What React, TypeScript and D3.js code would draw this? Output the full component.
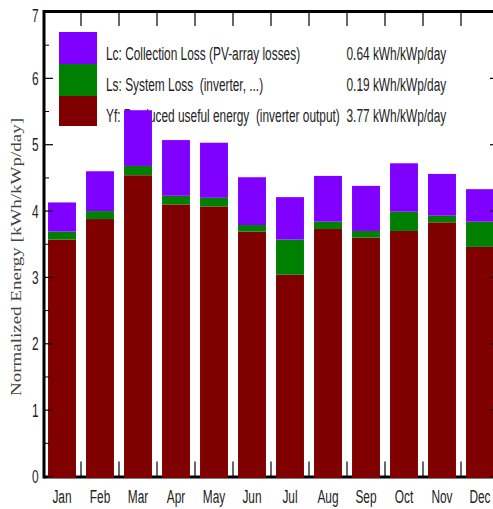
import React from 'react';
import * as d3 from 'd3';

const months = ['Jan', 'Feb', 'Mar', 'Apr', 'May', 'Jun', 'Jul', 'Aug', 'Sep', 'Oct', 'Nov', 'Dec'];
// Yf: produced useful energy
const yf = [3.57, 3.88, 4.54, 4.10, 4.07, 3.69, 3.04, 3.73, 3.60, 3.70, 3.83, 3.46];
// Ls: system loss
const ls = [0.12, 0.12, 0.14, 0.13, 0.13, 0.10, 0.53, 0.11, 0.10, 0.29, 0.10, 0.38];
// Lc: collection loss
const lc = [0.44, 0.60, 0.84, 0.84, 0.83, 0.72, 0.64, 0.69, 0.68, 0.73, 0.63, 0.49];

const yTicks = [0, 1, 2, 3, 4, 5, 6, 7];
const seriesKeys = ['yf', 'ls', 'lc'];
const colors: Record<string, string> = { yf: '#800000', ls: '#008000', lc: '#8000ff' };
const legendLabels = [
  { key: 'lc', text: 'Lc: Collection Loss (PV-array losses)', value: '0.64 kWh/kWp/day' },
  { key: 'ls', text: 'Ls: System Loss  (inverter, ...)', value: '0.19 kWh/kWp/day' },
  { key: 'yf', text: 'Yf: Produced useful energy  (inverter output)', value: '3.77 kWh/kWp/day' },
];

const width = 493;
const height = 509;
const left = 44;
const right = 499;
const top = 12;
const bottom = 476.5;
const sx = 0.66;

const App = () => {
  const rows = months.map((m, i) => ({ month: m, yf: yf[i], ls: ls[i], lc: lc[i] }));
  const stacked = d3.stack<any>().keys(seriesKeys)(rows);

  const x = d3.scaleBand().domain(months).range([43, 43 + 38 * 12]).paddingInner(0.265).paddingOuter(0.1325);
  const y = d3.scaleLinear().domain([0, 7]).range([bottom, top]);
  const minor = d3.range(0.5, 7, 1);
  const step = x.step();
  const bounds = months.slice(1).map(m => (x(m) as number) - (step - x.bandwidth()) / 2);

  const font = 'Liberation Sans, Arial, sans-serif';

  return (
    <svg width={width} height={height} style={{ position: 'absolute', left: 0, top: 0 }}>
      <rect width={width} height={height} fill="#fff" />

      {/* legend (drawn under the bars) */}
      {legendLabels.map((l, i) => {
        const ry = 32 + i * 32;
        return (
          <g key={l.key}>
            <rect x={59} y={ry} width={38} height={i === 2 ? 30 : 33} fill={colors[l.key]} />
            <g transform={`translate(106, ${59.5 + i * 31}) scale(${sx},1)`}>
              <text fontFamily={font} fontSize={18} fill="#222" style={{ whiteSpace: 'pre' }}>{l.text}</text>
            </g>
            <g transform={`translate(346.5, ${59.5 + i * 31}) scale(${sx},1)`}>
              <text fontFamily={font} fontSize={18} fill="#222">{l.value}</text>
            </g>
          </g>
        );
      })}

      {/* bottom axis line */}
      <line x1={left} x2={right} y1={bottom + 0.5} y2={bottom + 0.5} stroke="#000" strokeWidth={3} />

      {/* bars */}
      {stacked.map(s => (
        <g key={s.key} fill={colors[s.key]}>
          {s.map((d, i) => (
            <rect
              key={months[i]}
              x={x(months[i])}
              width={x.bandwidth()}
              y={y(d[1])}
              height={(s.key === 'yf' ? 1.5 : 0) + y(d[0]) - y(d[1])}
            />
          ))}
        </g>
      ))}

      {/* frame */}
      <line x1={left} x2={right} y1={top - 0.5} y2={top - 0.5} stroke="#000" strokeWidth={3} />
      <line x1={left} x2={left} y1={top - 2} y2={bottom + 2} stroke="#000" strokeWidth={3} />
      <line x1={right} x2={right} y1={top - 2} y2={bottom + 2} stroke="#000" strokeWidth={3} />

      {/* band boundary ticks */}
      {bounds.map((b, i) => (
        <g key={i} stroke="#000" strokeWidth={1.2}>
          <line x1={b} x2={b} y1={top} y2={top + 14} />
          <line x1={b} x2={b} y1={bottom} y2={bottom - 15} />
        </g>
      ))}

      {/* y ticks */}
      {yTicks.map(t => (
        <g key={t} stroke="#000" strokeWidth={1.2}>
          <line x1={left} x2={left + 9} y1={y(t)} y2={y(t)} />
          <line x1={right} x2={right - 9} y1={y(t)} y2={y(t)} />
        </g>
      ))}
      {minor.map(t => (
        <g key={t} stroke="#000" strokeWidth={1}>
          <line x1={left} x2={left + 5} y1={y(t)} y2={y(t)} />
          <line x1={right} x2={right - 5} y1={y(t)} y2={y(t)} />
        </g>
      ))}

      {/* y tick labels */}
      {yTicks.map(t => (
        <g key={t} transform={`translate(38.5, ${t === 7 ? y(t) + 10 : y(t) + 6.5}) scale(${sx},1)`}>
          <text fontFamily={font} fontSize={18} fill="#222" textAnchor="end">{t}</text>
        </g>
      ))}

      {/* x labels */}
      {months.map(m => (
        <g key={m} transform={`translate(${(x(m) as number) + x.bandwidth() / 2}, 503) scale(${sx},1)`}>
          <text fontFamily={font} fontSize={18} fill="#222" textAnchor="middle">{m}</text>
        </g>
      ))}

      {/* y axis title */}
      <g transform={`translate(20.5, 257) rotate(-90) scale(1, 0.75)`}>
        <text fontFamily="Liberation Serif, Times New Roman, serif" fontSize={19} fill="#444" textAnchor="middle">
          Normalized Energy [kWh/kWp/day]
        </text>
      </g>
    </svg>
  );
};

export default App;
